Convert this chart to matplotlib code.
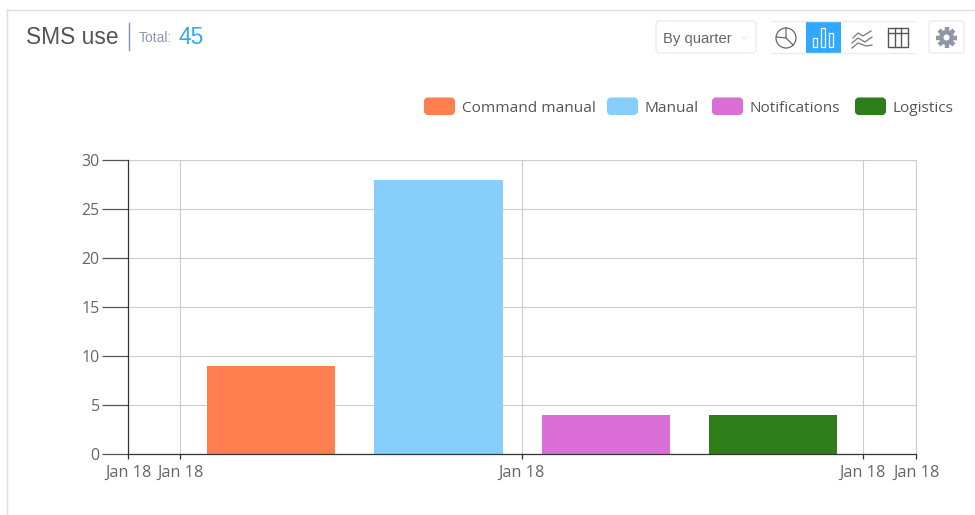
import numpy as np
import matplotlib
matplotlib.use('Agg')
import matplotlib.pyplot as plt
from matplotlib.patches import FancyBboxPatch, Rectangle, Circle

# Data
categories = ['Command manual', 'Manual', 'Notifications', 'Logistics']
values = [9, 28, 4, 4]
colors = ['#ff7f50', '#87cefa', '#da70d6', '#2e7d1a']
tick_labels = ['Jan 18', 'Jan 18', 'Jan 18', 'Jan 18', 'Jan 18']
y_ticks = [0, 5, 10, 15, 20, 25, 30]
total = 45

W, H = 975, 515
fig = plt.figure(figsize=(W / 100, H / 100), dpi=100, facecolor='white')

# Overlay in pixel coordinates for the card chrome
ui = fig.add_axes([0, 0, 1, 1], zorder=5)
ui.set_xlim(0, W)
ui.set_ylim(H, 0)
ui.axis('off')
ui.patch.set_alpha(0)

# Main chart
left, right, top, bottom = 128.4, 916.4, 160, 454
ax = fig.add_axes([left / W, 1 - bottom / H, (right - left) / W, (bottom - top) / H])
unit = 341.5
x_min, x_max = (left - 521.5) / unit, (right - 521.5) / unit
ax.set_xlim(x_min, x_max)
ax.set_ylim(0, 30)

pos = (np.arange(len(values)) - 1.5) * 0.49 + 0.002
ax.bar(pos, values, width=0.376, color=colors, zorder=3)

x_ticks = [x_min, -1, 0, 1, x_max]
ax.set_xticks(x_ticks)
ax.set_xticklabels(tick_labels)
ax.set_yticks(y_ticks)
ax.grid(True, color='#cccccc', linewidth=0.8)
ax.set_axisbelow(True)
for s in ['top', 'right']:
    ax.spines[s].set_color('#cccccc')
    ax.spines[s].set_linewidth(0.8)
for s in ['left', 'bottom']:
    ax.spines[s].set_color('#333333')
    ax.spines[s].set_linewidth(0.9)
    ax.spines[s].set_zorder(4)
ax.tick_params(axis='x', length=3.6, width=0.9, color='#333333', labelcolor='#666666',
               labelsize=11.7, pad=4)
ax.tick_params(axis='y', length=18.7, width=0.9, color='#555555', labelcolor='#666666',
               labelsize=11.4, pad=2)
for lab in ax.get_xticklabels() + ax.get_yticklabels():
    lab.set_family('Open Sans')

# Card border
ui.plot([7, 975], [9.5, 9.5], color='#dddddd', lw=1)
ui.plot([6.5, 6.5], [9, 515], color='#dddddd', lw=1)

# Header
ui.text(26, 37, 'SMS use', fontsize=16.4, family='Liberation Sans', color='#555555', va='center')
ui.plot([128.5, 128.5], [23, 50], color='#8090b0', lw=1)
ui.text(139, 37.5, 'Total:', fontsize=10, family='Liberation Sans', color='#8a98b5', va='center')
ui.text(178.5, 38, str(total), fontsize=16.5, family='Liberation Sans', color='#2fa8ff', va='center')

# Legend
legend_x = [424, 607, 712, 855]
for x, name, c in zip(legend_x, categories, colors):
    ui.add_patch(FancyBboxPatch((x + 1, 98.5), 29, 15.5, boxstyle='round,pad=0,rounding_size=3',
                                mutation_aspect=1, fc=c, ec=c, lw=1.5))
    ui.text(x + 37.5, 108, name, fontsize=11.1, family='Open Sans', color='#555555', va='center')

# Quarter dropdown
ui.add_patch(FancyBboxPatch((656, 21), 100, 32, boxstyle='round,pad=0,rounding_size=4',
                            fc='white', ec='#e8ecf2', lw=1))
ui.text(663, 38.5, 'By quarter', fontsize=10.7, family='Liberation Sans', color='#666666', va='center')
ui.plot([742, 744.5, 747], [37, 39, 37], color='#e2e5ea', lw=0.7)

# Chart type buttons
ui.plot([771, 914], [21, 21], color='#e8ecf2', lw=1)
ui.plot([771, 914], [53, 53], color='#e8ecf2', lw=1)
ui.add_patch(Rectangle((806, 21), 35, 32, fc='#2fa8ff', ec='none'))

# pie icon
ui.add_patch(Circle((786, 38), 10, fc='none', ec='#666666', lw=0.9))
ui.plot([786, 786, 776.5], [28, 38, 37], color='#666666', lw=0.9)
ui.plot([786, 793], [38, 45], color='#666666', lw=0.9)

# bar icon
for bx, bh in zip([813, 821, 828.5], [9.5, 19, 14]):
    ui.add_patch(Rectangle((bx, 47 - bh), 4, bh, fc='none', ec='white', lw=0.9))

# line icon
for ly, lx in [([38, 33, 36, 31], [853, 858, 863, 871]),
               ([43, 38, 42, 37], [852, 858, 865, 872]),
               ([48, 43, 46, 45], [852, 858, 866, 872])]:
    ui.plot(lx, ly, color='#777777', lw=0.9)

# table icon
ui.add_patch(Rectangle((888, 28), 20, 19, fc='none', ec='#555555', lw=1))
ui.plot([888, 908], [32.5, 32.5], color='#555555', lw=1)
ui.plot([894.5, 894.5], [28, 47], color='#555555', lw=1)
ui.plot([901, 901], [28, 47], color='#555555', lw=1)

# Settings button
ui.add_patch(FancyBboxPatch((929, 21), 35, 32, boxstyle='round,pad=0,rounding_size=3',
                            fc='white', ec='#e8ecf2', lw=1))
ang = np.linspace(0, 2 * np.pi, 8, endpoint=False)
for a in ang:
    ui.plot([946.5, 946.5 + 10.5 * np.cos(a)], [37.5, 37.5 + 10.5 * np.sin(a)], color='#8f96a8', lw=3.2,
            solid_capstyle='butt')
ui.add_patch(Circle((946.5, 37.5), 7.5, fc='#8f96a8', ec='none', zorder=3))
ui.add_patch(Circle((946.5, 37.5), 3, fc='white', ec='none', zorder=4))

fig.savefig('out.png', dpi=100)
